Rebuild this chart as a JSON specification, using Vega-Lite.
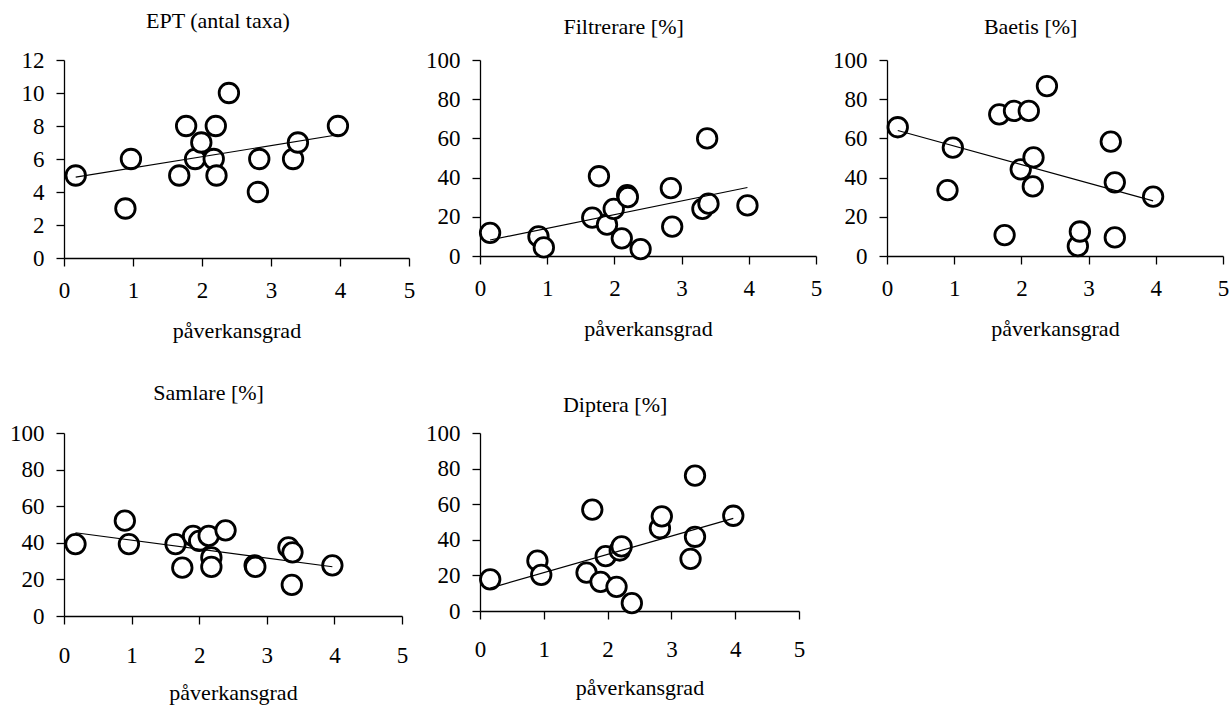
{
  "$schema": "https://vega.github.io/schema/vega-lite/v6.json",
  "background": "white",
  "padding": {"left": 9, "top": 10, "right": 5, "bottom": 5},
  "bounds": "flush",
  "columns": 3,
  "spacing": {"row": 175, "column": 71},
  "data": {"values": [
    {"panel": "EPT", "x": 0.17, "y": 5}, {"panel": "EPT", "x": 0.89, "y": 3}, {"panel": "EPT", "x": 0.97, "y": 6},
    {"panel": "EPT", "x": 1.67, "y": 5}, {"panel": "EPT", "x": 1.77, "y": 8}, {"panel": "EPT", "x": 1.9, "y": 6},
    {"panel": "EPT", "x": 1.99, "y": 7}, {"panel": "EPT", "x": 2.17, "y": 6}, {"panel": "EPT", "x": 2.2, "y": 8},
    {"panel": "EPT", "x": 2.21, "y": 5}, {"panel": "EPT", "x": 2.39, "y": 10}, {"panel": "EPT", "x": 2.81, "y": 4},
    {"panel": "EPT", "x": 2.83, "y": 6}, {"panel": "EPT", "x": 3.32, "y": 6}, {"panel": "EPT", "x": 3.39, "y": 7},
    {"panel": "EPT", "x": 3.97, "y": 8},
    {"panel": "Filt", "x": 0.15, "y": 11.8}, {"panel": "Filt", "x": 0.87, "y": 10}, {"panel": "Filt", "x": 0.95, "y": 4.4},
    {"panel": "Filt", "x": 1.67, "y": 19.6}, {"panel": "Filt", "x": 1.77, "y": 40.7}, {"panel": "Filt", "x": 1.89, "y": 16},
    {"panel": "Filt", "x": 1.99, "y": 24}, {"panel": "Filt", "x": 2.11, "y": 9}, {"panel": "Filt", "x": 2.19, "y": 31},
    {"panel": "Filt", "x": 2.2, "y": 30}, {"panel": "Filt", "x": 2.39, "y": 3.5}, {"panel": "Filt", "x": 2.84, "y": 34.6},
    {"panel": "Filt", "x": 2.86, "y": 15}, {"panel": "Filt", "x": 3.31, "y": 24}, {"panel": "Filt", "x": 3.38, "y": 60},
    {"panel": "Filt", "x": 3.4, "y": 26.7}, {"panel": "Filt", "x": 3.98, "y": 25.8},
    {"panel": "Baetis", "x": 0.16, "y": 65.7}, {"panel": "Baetis", "x": 0.9, "y": 33.6}, {"panel": "Baetis", "x": 0.98, "y": 55.3},
    {"panel": "Baetis", "x": 1.67, "y": 72.3}, {"panel": "Baetis", "x": 1.75, "y": 10.7}, {"panel": "Baetis", "x": 1.89, "y": 74},
    {"panel": "Baetis", "x": 1.99, "y": 44.2}, {"panel": "Baetis", "x": 2.11, "y": 74}, {"panel": "Baetis", "x": 2.17, "y": 35.5},
    {"panel": "Baetis", "x": 2.18, "y": 50.3}, {"panel": "Baetis", "x": 2.38, "y": 86.7}, {"panel": "Baetis", "x": 2.84, "y": 5},
    {"panel": "Baetis", "x": 2.87, "y": 12.5}, {"panel": "Baetis", "x": 3.33, "y": 58.4}, {"panel": "Baetis", "x": 3.39, "y": 37.6},
    {"panel": "Baetis", "x": 3.39, "y": 9.5}, {"panel": "Baetis", "x": 3.96, "y": 30.3},
    {"panel": "Samlare", "x": 0.17, "y": 39.3}, {"panel": "Samlare", "x": 0.9, "y": 52.1}, {"panel": "Samlare", "x": 0.96, "y": 39.3},
    {"panel": "Samlare", "x": 1.65, "y": 39.3}, {"panel": "Samlare", "x": 1.75, "y": 26.4}, {"panel": "Samlare", "x": 1.91, "y": 43.75},
    {"panel": "Samlare", "x": 2.0, "y": 41}, {"panel": "Samlare", "x": 2.14, "y": 43.75}, {"panel": "Samlare", "x": 2.18, "y": 32},
    {"panel": "Samlare", "x": 2.18, "y": 26.8}, {"panel": "Samlare", "x": 2.39, "y": 46.8}, {"panel": "Samlare", "x": 2.82, "y": 27.7},
    {"panel": "Samlare", "x": 2.83, "y": 26.8}, {"panel": "Samlare", "x": 3.32, "y": 37.5}, {"panel": "Samlare", "x": 3.38, "y": 34.8},
    {"panel": "Samlare", "x": 3.37, "y": 17}, {"panel": "Samlare", "x": 3.97, "y": 27.7},
    {"panel": "Diptera", "x": 0.16, "y": 17.8}, {"panel": "Diptera", "x": 0.9, "y": 28.3}, {"panel": "Diptera", "x": 0.96, "y": 20.3},
    {"panel": "Diptera", "x": 1.67, "y": 21.6}, {"panel": "Diptera", "x": 1.76, "y": 57}, {"panel": "Diptera", "x": 1.89, "y": 16.4},
    {"panel": "Diptera", "x": 1.97, "y": 30.8}, {"panel": "Diptera", "x": 2.14, "y": 13.6}, {"panel": "Diptera", "x": 2.19, "y": 34},
    {"panel": "Diptera", "x": 2.22, "y": 36.3}, {"panel": "Diptera", "x": 2.38, "y": 4.4}, {"panel": "Diptera", "x": 2.82, "y": 46.5},
    {"panel": "Diptera", "x": 2.85, "y": 53.2}, {"panel": "Diptera", "x": 3.3, "y": 29.3}, {"panel": "Diptera", "x": 3.37, "y": 76.1},
    {"panel": "Diptera", "x": 3.37, "y": 41.7}, {"panel": "Diptera", "x": 3.97, "y": 53.5}
  ]},
  "concat": [
    {
      "width": 345, "height": 198,
      "title": {"text": "EPT (antal taxa)", "offset": 16},
      "transform": [{"filter": "datum.panel === 'EPT'"}],
      "layer": [
        {"mark": {"type": "point", "shape": "circle", "size": 380, "fill": "white", "stroke": "black", "strokeWidth": 2.8, "opacity": 1},
         "encoding": {
           "x": {"field": "x", "type": "quantitative", "scale": {"domain": [0, 5], "nice": false}, "axis": {"tickCount": 5, "format": "d", "title": "påverkansgrad"}},
           "y": {"field": "y", "type": "quantitative", "scale": {"domain": [0, 12], "nice": false}, "axis": {"tickCount": 6, "format": "d", "title": null}}}},
        {"transform": [{"regression": "y", "on": "x"}],
         "mark": {"type": "line", "color": "black", "strokeWidth": 1.2},
         "encoding": {"x": {"field": "x", "type": "quantitative"}, "y": {"field": "y", "type": "quantitative"}}}
      ]
    },
    {
      "width": 336, "height": 196,
      "title": {"text": "Filtrerare [%]", "offset": 10},
      "transform": [{"filter": "datum.panel === 'Filt'"}],
      "layer": [
        {"mark": {"type": "point", "shape": "circle", "size": 380, "fill": "white", "stroke": "black", "strokeWidth": 2.8, "opacity": 1},
         "encoding": {
           "x": {"field": "x", "type": "quantitative", "scale": {"domain": [0, 5], "nice": false}, "axis": {"tickCount": 5, "format": "d", "title": "påverkansgrad"}},
           "y": {"field": "y", "type": "quantitative", "scale": {"domain": [0, 100], "nice": false}, "axis": {"tickCount": 5, "format": "d", "title": null}}}},
        {"transform": [{"regression": "y", "on": "x"}],
         "mark": {"type": "line", "color": "black", "strokeWidth": 1.2},
         "encoding": {"x": {"field": "x", "type": "quantitative"}, "y": {"field": "y", "type": "quantitative"}}}
      ]
    },
    {
      "width": 336, "height": 196,
      "title": {"text": "Baetis [%]", "offset": 10},
      "transform": [{"filter": "datum.panel === 'Baetis'"}],
      "layer": [
        {"mark": {"type": "point", "shape": "circle", "size": 380, "fill": "white", "stroke": "black", "strokeWidth": 2.8, "opacity": 1},
         "encoding": {
           "x": {"field": "x", "type": "quantitative", "scale": {"domain": [0, 5], "nice": false}, "axis": {"tickCount": 5, "format": "d", "title": "påverkansgrad"}},
           "y": {"field": "y", "type": "quantitative", "scale": {"domain": [0, 100], "nice": false}, "axis": {"tickCount": 5, "format": "d", "title": null}}}},
        {"transform": [{"regression": "y", "on": "x"}],
         "mark": {"type": "line", "color": "black", "strokeWidth": 1.2},
         "encoding": {"x": {"field": "x", "type": "quantitative"}, "y": {"field": "y", "type": "quantitative"}}}
      ]
    },
    {
      "width": 338, "height": 183,
      "title": {"text": "Samlare [%]", "offset": 17},
      "transform": [{"filter": "datum.panel === 'Samlare'"}],
      "layer": [
        {"mark": {"type": "point", "shape": "circle", "size": 380, "fill": "white", "stroke": "black", "strokeWidth": 2.8, "opacity": 1},
         "encoding": {
           "x": {"field": "x", "type": "quantitative", "scale": {"domain": [0, 5], "nice": false}, "axis": {"tickCount": 5, "format": "d", "labelPadding": 20, "titlePadding": 15, "title": "påverkansgrad"}},
           "y": {"field": "y", "type": "quantitative", "scale": {"domain": [0, 100], "nice": false}, "axis": {"tickCount": 5, "format": "d", "title": null}}}},
        {"transform": [{"regression": "y", "on": "x"}],
         "mark": {"type": "line", "color": "black", "strokeWidth": 1.2},
         "encoding": {"x": {"field": "x", "type": "quantitative"}, "y": {"field": "y", "type": "quantitative"}}}
      ]
    },
    {
      "width": 319, "height": 178,
      "title": {"text": "Diptera [%]", "offset": 5},
      "transform": [{"filter": "datum.panel === 'Diptera'"}],
      "layer": [
        {"mark": {"type": "point", "shape": "circle", "size": 380, "fill": "white", "stroke": "black", "strokeWidth": 2.8, "opacity": 1},
         "encoding": {
           "x": {"field": "x", "type": "quantitative", "scale": {"domain": [0, 5], "nice": false}, "axis": {"tickCount": 5, "format": "d", "labelPadding": 19, "titlePadding": 16, "title": "påverkansgrad"}},
           "y": {"field": "y", "type": "quantitative", "scale": {"domain": [0, 100], "nice": false}, "axis": {"tickCount": 5, "format": "d", "title": null}}}},
        {"transform": [{"regression": "y", "on": "x"}],
         "mark": {"type": "line", "color": "black", "strokeWidth": 1.2},
         "encoding": {"x": {"field": "x", "type": "quantitative"}, "y": {"field": "y", "type": "quantitative"}}}
      ]
    }
  ],
  "config": {
    "view": {"stroke": null},
    "font": "Liberation Serif",
    "axis": {"grid": false, "domainColor": "black", "tickColor": "black", "labelColor": "black", "titleColor": "black",
             "labelFont": "Liberation Serif", "titleFont": "Liberation Serif", "labelFontSize": 23, "titleFontSize": 22,
             "titleFontWeight": "normal", "tickSize": 8, "domainWidth": 1.3, "tickWidth": 1.3, "labelBound": false, "labelOverlap": false},
    "axisX": {"labelFlush": false, "labelPadding": 13, "titlePadding": 18},
    "axisY": {"labelPadding": 12},
    "title": {"font": "Liberation Serif", "fontSize": 22, "fontWeight": "normal", "color": "black", "anchor": "middle", "frame": "bounds"}
  }
}
